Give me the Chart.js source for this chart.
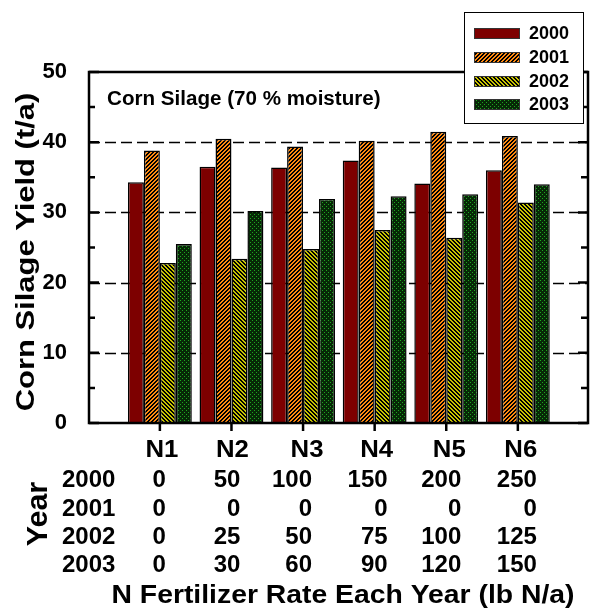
<!DOCTYPE html>
<html>
<head>
<meta charset="utf-8">
<script src="https://cdn.jsdelivr.net/npm/chart.js@4.4.1/dist/chart.umd.min.js"></script>
<style>
html, body { margin: 0; padding: 0; background: #fff; }
</style>
</head>
<body>
<canvas id="myChart" width="590" height="608"></canvas>
<script>
const categories = ['N1', 'N2', 'N3', 'N4', 'N5', 'N6'];
const years = ['2000', '2001', '2002', '2003'];

// corn silage yield, t/a
const yield2000 = [34.3, 36.5, 36.4, 37.4, 34.1, 36.0];
const yield2001 = [38.8, 40.5, 39.4, 40.2, 41.5, 40.9];
const yield2002 = [22.8, 23.4, 24.8, 27.5, 26.4, 31.4];
const yield2003 = [25.5, 30.2, 31.9, 32.3, 32.6, 34.0];

// N rate applied each year, lb N/a
const rate2000 = [0, 50, 100, 150, 200, 250];
const rate2001 = [0, 0, 0, 0, 0, 0];
const rate2002 = [0, 25, 50, 75, 100, 125];
const rate2003 = [0, 30, 60, 90, 120, 150];

const yTicks = [0, 10, 20, 30, 40, 50];

const FONT = '"Liberation Sans", Arial, Helvetica, sans-serif';

function makePattern(bg, fg, size, test) {
    const c = document.createElement('canvas');
    c.width = size; c.height = size;
    const g = c.getContext('2d');
    g.fillStyle = bg;
    g.fillRect(0, 0, size, size);
    g.fillStyle = fg;
    for (let x = 0; x < size; x++) {
        for (let y = 0; y < size; y++) {
            if (test(x, y)) g.fillRect(x, y, 1, 1);
        }
    }
    return g.createPattern(c, 'repeat');
}

const fills = [
    '#7d0000',
    makePattern('#ff8a10', '#000', 4, (x, y) => (x + y) % 4 < 2),
    makePattern('#c8c400', '#000', 4, (x, y) => (x - y + 8) % 4 < 2),
    makePattern('#062806', '#1fa51f', 4, (x, y) => (x % 2 === 0 && y % 2 === 0) && ((x + y) % 4 === 0))
];

const yields = [yield2000, yield2001, yield2002, yield2003];
const rates = [rate2000, rate2001, rate2002, rate2003];

function text(ctx, str, x, y, size, opts) {
    // y is the visual centre of the capitals
    opts = opts || {};
    ctx.save();
    ctx.translate(x, y);
    if (opts.rotate) ctx.rotate(opts.rotate);
    ctx.scale(opts.sx || 1, 1);
    ctx.font = 'bold ' + size + 'px ' + FONT;
    ctx.fillStyle = '#000';
    ctx.textAlign = opts.align || 'center';
    ctx.textBaseline = 'alphabetic';
    ctx.fillText(str, 0, size * 0.358);
    ctx.restore();
}

const framePlugin = {
    id: 'frame',
    beforeDatasetsDraw(chart) {
        const { ctx, chartArea: a, scales: { y } } = chart;
        ctx.save();
        ctx.strokeStyle = '#000';
        ctx.lineWidth = 1.5;
        ctx.setLineDash([11, 5]);
        yTicks.slice(1, -1).forEach(v => {
            const py = Math.round(y.getPixelForValue(v)) + 0.5;
            ctx.beginPath();
            ctx.moveTo(a.left, py);
            ctx.lineTo(a.right, py);
            ctx.stroke();
        });
        ctx.restore();
    },
    afterDraw(chart) {
        const { ctx, chartArea: a, scales: { x, y } } = chart;
        ctx.save();
        ctx.strokeStyle = '#000';
        ctx.lineCap = 'butt';

        // inward ticks, major and minor, both sides
        ctx.lineWidth = 2.5;
        yTicks.forEach((v, i) => {
            const py = y.getPixelForValue(v);
            ctx.beginPath();
            ctx.moveTo(a.left, py); ctx.lineTo(a.left + 10, py);
            ctx.moveTo(a.right, py); ctx.lineTo(a.right - 10, py);
            ctx.stroke();
            if (i < yTicks.length - 1) {
                const pm = y.getPixelForValue((v + yTicks[i + 1]) / 2);
                ctx.beginPath();
                ctx.moveTo(a.left, pm); ctx.lineTo(a.left + 6, pm);
                ctx.moveTo(a.right, pm); ctx.lineTo(a.right - 7, pm);
                ctx.stroke();
            }
        });

        // outward ticks at each N rate
        categories.forEach((c, i) => {
            const px = x.getPixelForValue(i);
            ctx.beginPath();
            ctx.moveTo(px, a.bottom); ctx.lineTo(px, a.bottom + 8);
            ctx.stroke();
        });

        // frame
        ctx.lineWidth = 2.5;
        ctx.strokeRect(a.left, a.top, a.right - a.left, a.bottom - a.top);

        // texts
        text(ctx, 'Corn Silage (70 % moisture)', 107, 98, 20, { align: 'left', sx: 1.03 });
        text(ctx, 'Corn Silage Yield (t/a)', 25, 252, 26, { rotate: -Math.PI / 2, sx: 1.19 });

        const labelNudge = [2, 1, 4, 2, 3, 3];
        categories.forEach((c, i) => {
            text(ctx, c, x.getPixelForValue(i) + labelNudge[i], 449, 23, { sx: 1.12 });
        });

        const rowY = [478, 507, 535, 563];
        const colNudge = [6, 9, 9, 13, 15, 19];
        years.forEach((yr, r) => {
            text(ctx, yr, 62, rowY[r], 24, { align: 'left' });
            rates[r].forEach((v, i) => {
                text(ctx, String(v), x.getPixelForValue(i) + colNudge[i], rowY[r], 24, { align: 'right' });
            });
        });
        text(ctx, 'Year', 37, 514, 29, { rotate: -Math.PI / 2, sx: 1.05 });
        text(ctx, 'N Fertilizer Rate Each Year (lb N/a)', 343, 594, 26, { sx: 1.09 });

        // legend
        ctx.setLineDash([]);
        ctx.fillStyle = '#fff';
        ctx.fillRect(464, 12, 119, 111);
        ctx.lineWidth = 1;
        ctx.strokeRect(464.5, 12.5, 119, 111);
        const legY = [33, 57, 81, 104];
        years.forEach((yr, k) => {
            ctx.fillStyle = fills[k];
            ctx.fillRect(474, legY[k] - 5, 45, 10);
            ctx.strokeStyle = '#333';
            ctx.strokeRect(474.5, legY[k] - 4.5, 45, 10);
            text(ctx, yr, 529, legY[k], 18, { align: 'left' });
        });
        ctx.restore();
    }
};

const ctx = document.getElementById('myChart').getContext('2d');

new Chart(ctx, {
    type: 'bar',
    data: {
        datasets: years.map((yr, k) => ({
            label: yr,
            data: yields[k].map((v, i) => ({ x: i, y: v })),
            backgroundColor: fills[k],
            borderColor: '#000',
            borderWidth: 1.5,
            categoryPercentage: 0.91,
            barPercentage: 1.0
        }))
    },
    options: {
        responsive: false,
        animation: false,
        layout: { padding: { top: 72, right: 2, left: 0, bottom: 0 } },
        scales: {
            x: {
                type: 'linear',
                offset: false,
                min: -0.99,
                max: 5.98,
                grid: { display: false },
                border: { display: false },
                ticks: { display: false },
                afterFit: scale => { scale.height = 185; }
            },
            y: {
                min: 0,
                max: 50,
                grid: { display: false },
                border: { display: false },
                ticks: {
                    stepSize: 10,
                    padding: 14,
                    color: '#000',
                    font: { family: FONT, size: 22, weight: 'bold' }
                },
                afterFit: scale => { scale.width = 89; }
            }
        },
        plugins: {
            legend: { display: false },
            tooltip: { enabled: false }
        }
    },
    plugins: [framePlugin]
});
</script>
</body>
</html>
